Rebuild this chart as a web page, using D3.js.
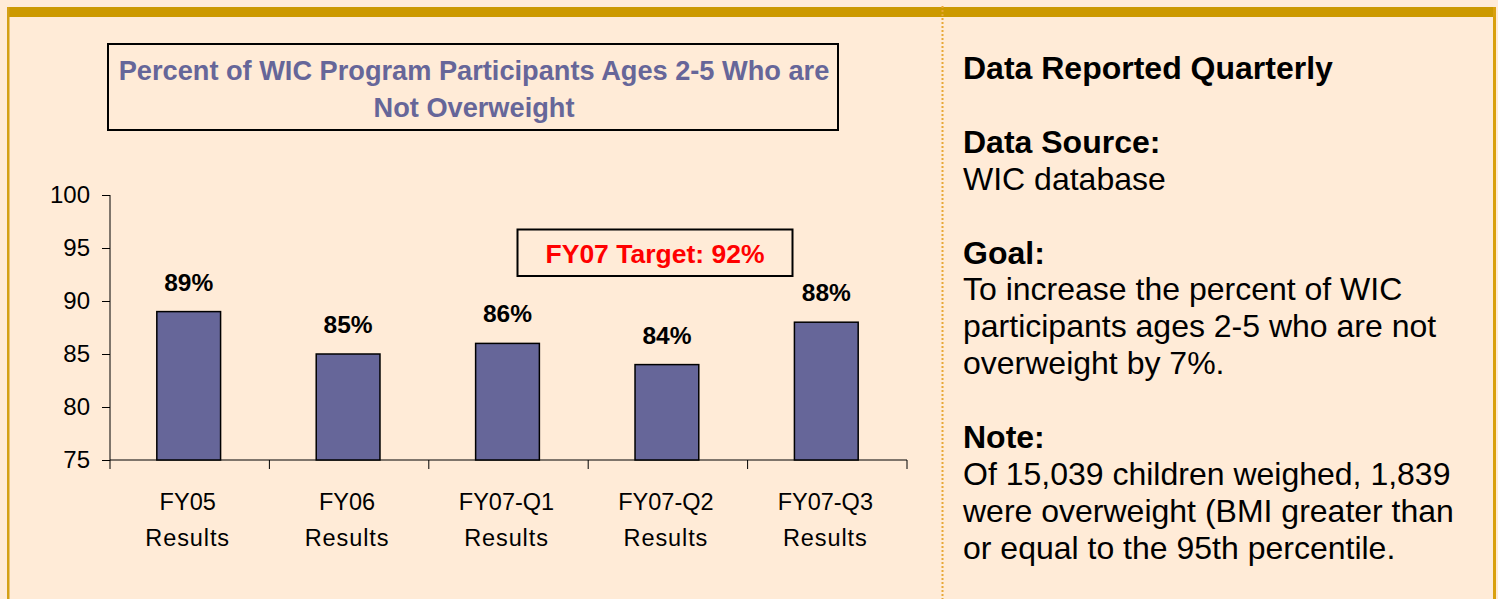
<!DOCTYPE html>
<html>
<head>
<meta charset="utf-8">
<script src="https://d3js.org/d3.v7.min.js"></script>
<style>
  html, body { margin: 0; padding: 0; background: #FFEBD7; }
  svg { display: block; }
  text { font-family: Arial, "Liberation Sans", sans-serif; }
</style>
</head>
<body>
<script>
// ---- data ----
const categories = ["FY05", "FY06", "FY07-Q1", "FY07-Q2", "FY07-Q3"];
const categorySub = ["Results", "Results", "Results", "Results", "Results"];
const values = [89, 85, 86, 84, 88];
const yTicks = [75, 80, 85, 90, 95, 100];
const titleLines = ["Percent of WIC Program Participants Ages 2-5 Who are", "Not Overweight"];
const targetLabel = "FY07 Target: 92%";
const sidePanel = [
  { text: "Data Reported Quarterly", bold: true },
  { text: "", bold: false },
  { text: "Data Source:", bold: true },
  { text: "WIC database", bold: false },
  { text: "", bold: false },
  { text: "Goal:", bold: true },
  { text: "To increase the percent of WIC", bold: false },
  { text: "participants ages 2-5 who are not", bold: false },
  { text: "overweight by 7%.", bold: false },
  { text: "", bold: false },
  { text: "Note:", bold: true },
  { text: "Of 15,039 children weighed, 1,839", bold: false },
  { text: "were overweight (BMI greater than", bold: false },
  { text: "or equal to the 95th percentile.", bold: false }
];

const W = 1498, H = 599;
const svg = d3.select("body").append("svg").attr("width", W).attr("height", H);

// background + frame
svg.append("rect").attr("x", 0).attr("y", 0).attr("width", W).attr("height", H).attr("fill", "#FFEBD7");
svg.append("rect").attr("x", 7).attr("y", 7).attr("width", 1489).attr("height", 10).attr("fill", "#CC9900");
svg.append("rect").attr("x", 7).attr("y", 7).attr("width", 2.5).attr("height", H - 7).attr("fill", "#D4A017");
svg.append("rect").attr("x", 1493).attr("y", 7).attr("width", 3).attr("height", H - 7).attr("fill", "#D9A00E");
svg.append("line").attr("x1", 942.5).attr("x2", 942.5).attr("y1", 6).attr("y2", H)
  .attr("stroke", "#E8A838").attr("stroke-width", 2).attr("stroke-dasharray", "2,2");

// title box
svg.append("rect").attr("x", 108).attr("y", 44).attr("width", 730).attr("height", 86)
  .attr("fill", "none").attr("stroke", "#000").attr("stroke-width", 2);
svg.append("g").selectAll("text").data(titleLines).join("text")
  .attr("x", 474).attr("y", (d, i) => 80 + i * 37)
  .attr("text-anchor", "middle").attr("font-weight", "bold").attr("font-size", 27.2)
  .attr("fill", "#666699").text(d => d);

// scales
const x = d3.scaleBand().domain(categories).range([110, 907]).padding(0);
const y = d3.scaleLinear().domain([75, 100]).range([460, 195]);

// y axis
const yAxis = d3.axisLeft(y).tickValues(yTicks).tickSize(8).tickPadding(12);
const gy = svg.append("g").attr("transform", "translate(110,0)").call(yAxis);
gy.select(".domain").remove();
gy.append("line").attr("x1", 0).attr("x2", 0).attr("y1", y(100)).attr("y2", y(75)).attr("stroke", "#000");
gy.selectAll(".tick line").attr("stroke", "#000");
gy.selectAll(".tick text").attr("font-size", 24).attr("fill", "#000")
  .attr("font-family", 'Arial, "Liberation Sans", sans-serif');

// x axis line and category boundary ticks
svg.append("line").attr("x1", 110).attr("x2", 907).attr("y1", y(75)).attr("y2", y(75)).attr("stroke", "#000");
const bounds = categories.map(c => x(c)).concat([x.range()[1]]);
svg.append("g").selectAll("line").data(bounds).join("line")
  .attr("x1", d => d).attr("x2", d => d).attr("y1", y(75)).attr("y2", y(75) + 9).attr("stroke", "#000");

// x labels
const xl = svg.append("g").selectAll("g").data(categories).join("g");
xl.append("text").attr("x", d => x(d) + x.bandwidth() / 2 - 2).attr("y", 510)
  .attr("text-anchor", "middle").attr("font-size", 23.5).attr("fill", "#000").text(d => d);
xl.append("text").attr("x", d => x(d) + x.bandwidth() / 2 - 2).attr("y", 546)
  .attr("text-anchor", "middle").attr("font-size", 23.5).attr("letter-spacing", 0.9).attr("fill", "#000")
  .text((d, i) => categorySub[i]);

// bars
const barW = x.bandwidth() * 0.4;
svg.append("g").selectAll("rect").data(values).join("rect")
  .attr("x", (d, i) => x(categories[i]) + x.bandwidth() / 2 - barW / 2 - 1)
  .attr("y", d => y(d))
  .attr("width", barW).attr("height", d => y(75) - y(d))
  .attr("fill", "#666699").attr("stroke", "#000").attr("stroke-width", 1.5);

// value labels
svg.append("g").selectAll("text").data(values).join("text")
  .attr("x", (d, i) => x(categories[i]) + x.bandwidth() / 2 - 1)
  .attr("y", d => y(d) - 21)
  .attr("text-anchor", "middle").attr("font-weight", "bold").attr("font-size", 24.5)
  .attr("fill", "#000").text(d => d + "%");

// target box
svg.append("rect").attr("x", 517.5).attr("y", 229.5).attr("width", 275).attr("height", 46.5)
  .attr("fill", "none").attr("stroke", "#000").attr("stroke-width", 2);
svg.append("text").attr("x", 655).attr("y", 263).attr("text-anchor", "middle")
  .attr("font-weight", "bold").attr("font-size", 26.5).attr("fill", "#FF0000").text(targetLabel);

// side panel
svg.append("g").selectAll("text").data(sidePanel).join("text")
  .attr("x", 963).attr("y", (d, i) => 79 + i * 36.9)
  .attr("font-size", 32).attr("font-weight", d => d.bold ? "bold" : "normal")
  .attr("fill", "#000").text(d => d.text);
</script>
</body>
</html>
